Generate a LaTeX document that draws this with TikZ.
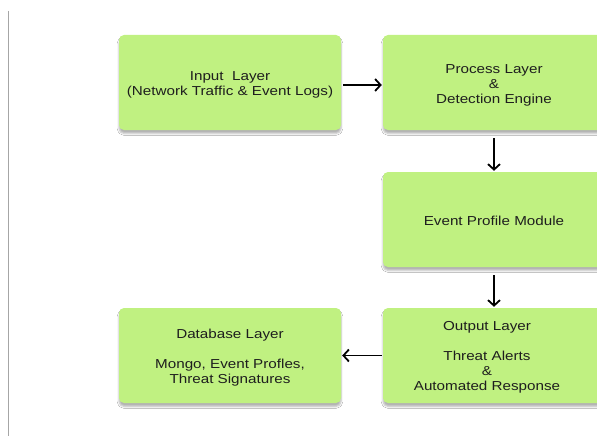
\documentclass[tikz,border=0pt]{standalone}
\usepackage{fontspec}
\setmainfont{Liberation Sans}[FakeStretch=1.17]
\usetikzlibrary{arrows.meta,shadows.blur}
\definecolor{boxgreen}{HTML}{C0F181}
\definecolor{ink}{HTML}{1E1E1E}
\tikzset{
  layerbox/.style={fill=boxgreen, rounded corners=5pt, minimum width=222pt,
    minimum height=95pt, inner sep=0pt,
    blur shadow={shadow xshift=0pt, shadow yshift=-3.5pt,
      shadow blur radius=1.8pt, shadow opacity=30}},
  boxtext/.style={align=center, text=ink, inner sep=0pt,
    font=\fontsize{13}{15}\selectfont},
  flow/.style={draw=black, line width=1.8pt,
    -{Straight Barb[length=5.5pt,width=12pt,line width=1.8pt]}}
}
\begin{document}
\begin{tikzpicture}[x=1pt,y=-1pt]
  \useasboundingbox (0,0) rectangle (597,436);
  \clip (0,0) rectangle (597,436);
  \fill[white] (0,0) rectangle (597,436);
  % margin rule on the left
  \draw[draw=gray!70, line width=0.9pt] (8,11) -- (8,436);

  % layer boxes
  \node[layerbox] (input) at (230,82.5) {};
  \node[layerbox] (process) at (494,82.5) {};
  \node[layerbox] (profile) at (494,219.5) {};
  \node[layerbox] (output) at (494,355.5) {};
  \node[layerbox] (database) at (230,355.5) {};

  % box captions
  \node[boxtext] (inputtext) at ([yshift=-2.5pt]input.center)
    {Input~~Layer\\(Network Traffic \& Event Logs)};
  \node[boxtext] (processtext) at ([yshift=-2.5pt]process.center)
    {Process Layer\\\&\\Detection Engine};
  \node[boxtext] (profiletext) at ([yshift=-1.5pt]profile.center)
    {Event Profile Module};
  \node[boxtext] (outtext) at ([xshift=-7pt,yshift=-1.5pt]output.center)
    {Output Layer\\[15pt]Threat Alerts\\\&\\Automated Response};
  \node[boxtext] (dbtext) at ([yshift=-2pt]database.center)
    {Database Layer\\[15pt]Mongo, Event Profles,\\Threat Signatures};

  % data flow
  \draw[flow, shorten <=2pt, shorten >=1pt]
    ([yshift=-2.5pt]input.east) -- ([yshift=-2.5pt]process.west);
  \draw[flow, shorten <=8pt, shorten >=1pt] (process.south) -- (profile.north);
  \draw[flow, shorten <=8pt, shorten >=1pt] (profile.south) -- (output.north);
  \draw[flow, shorten <=1pt, shorten >=1pt] (output.west) -- (database.east);
\end{tikzpicture}
\end{document}
